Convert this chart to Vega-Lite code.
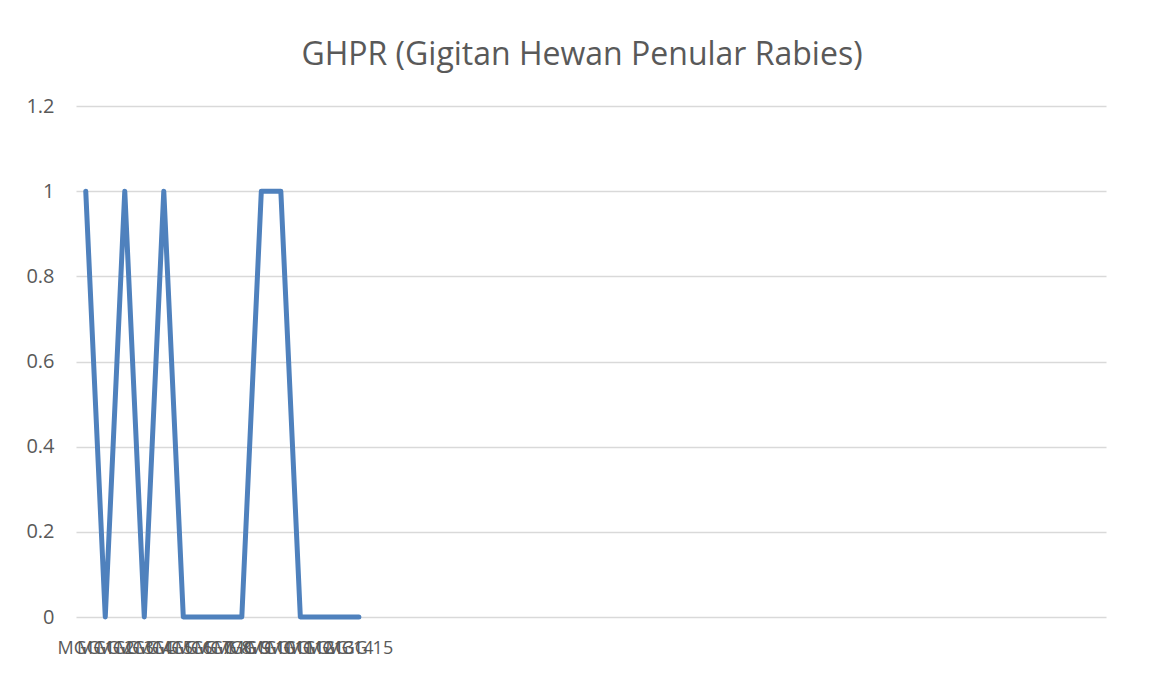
{
  "$schema": "https://vega.github.io/schema/vega-lite/v6.json",
  "autosize": {"type": "none"},
  "padding": {"left": 76, "top": 106, "right": 45, "bottom": 58},
  "width": 1030,
  "height": 511,
  "background": "white",
  "title": {
    "text": "GHPR (Gigitan Hewan Penular Rabies)",
    "font": "Open Sans",
    "fontSize": 32,
    "fontWeight": "normal",
    "color": "#595959",
    "anchor": "middle",
    "dx": -9,
    "offset": 24
  },
  "config": {"view": {"stroke": null}},
  "data": {
    "values": [
      {"idx": 1, "label": "MGG 1", "value": 1},
      {"idx": 2, "label": "MGG 2", "value": 0},
      {"idx": 3, "label": "MGG 3", "value": 1},
      {"idx": 4, "label": "MGG 4", "value": 0},
      {"idx": 5, "label": "MGG 5", "value": 1},
      {"idx": 6, "label": "MGG 6", "value": 0},
      {"idx": 7, "label": "MGG 7", "value": 0},
      {"idx": 8, "label": "MGG 8", "value": 0},
      {"idx": 9, "label": "MGG 9", "value": 0},
      {"idx": 10, "label": "MGG 10", "value": 1},
      {"idx": 11, "label": "MGG 11", "value": 1},
      {"idx": 12, "label": "MGG 12", "value": 0},
      {"idx": 13, "label": "MGG 13", "value": 0},
      {"idx": 14, "label": "MGG 14", "value": 0},
      {"idx": 15, "label": "MGG 15", "value": 0}
    ]
  },
  "mark": {"type": "line", "color": "#4f81bd", "strokeWidth": 5, "strokeCap": "round", "strokeJoin": "round"},
  "encoding": {
    "x": {
      "field": "idx",
      "type": "quantitative",
      "scale": {"domain": [0.5, 53.3], "nice": false, "zero": false},
      "axis": {
        "title": null,
        "values": [1,2,3,4,5,6,7,8,9,10,11,12,13,14,15],
        "labelExpr": "'MGG ' + datum.value",
        "labelOverlap": false,
        "labelFlush": false,
        "grid": false,
        "ticks": false,
        "domain": false,
        "labelFont": "Open Sans",
        "labelFontSize": 18,
        "labelColor": "#595959",
        "labelPadding": 22
      }
    },
    "y": {
      "field": "value",
      "type": "quantitative",
      "scale": {"domain": [0, 1.2], "nice": false},
      "axis": {
        "title": null,
        "values": [0, 0.2, 0.4, 0.6, 0.8, 1, 1.2],
        "format": "~g",
        "grid": true,
        "gridColor": "#d9d9d9",
        "gridWidth": 1.3,
        "ticks": false,
        "domain": false,
        "labelFont": "Open Sans",
        "labelFontSize": 20,
        "labelColor": "#595959",
        "labelPadding": 22
      }
    }
  }
}
